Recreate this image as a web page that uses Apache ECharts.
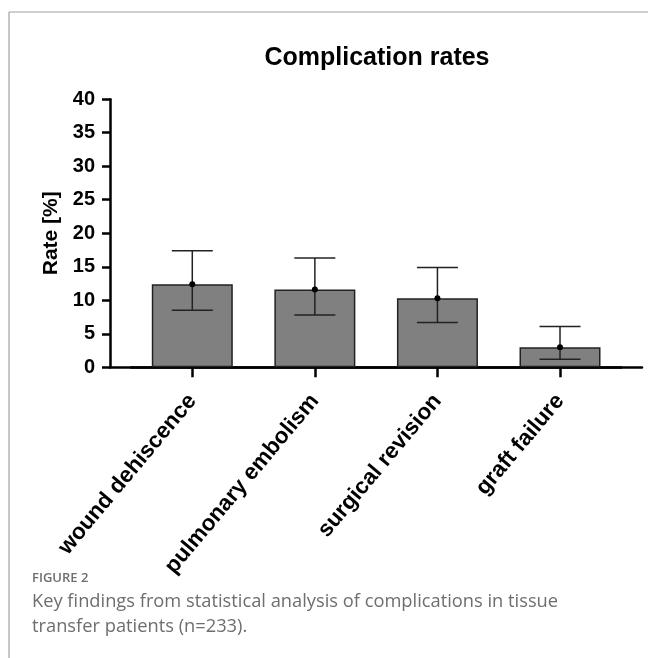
<!DOCTYPE html>
<html>
<head>
<meta charset="utf-8">
<script src="https://cdn.jsdelivr.net/npm/echarts@6/dist/echarts.min.js"></script>
<style>
html,body{margin:0;padding:0;background:#fff;}
#chart{width:648px;height:658px;}
</style>
</head>
<body>
<div id="chart"></div>
<script>
// ---- data ----
var categories = ['wound dehiscence', 'pulmonary embolism', 'surgical revision', 'graft failure'];
var rates = [12.4, 11.6, 10.3, 3.0];
var lowerCI = [8.5, 7.8, 6.7, 1.2];
var upperCI = [17.4, 16.3, 14.9, 6.1];
var yTicks = [0, 5, 10, 15, 20, 25, 30, 35, 40];
var titleText = 'Complication rates';
var yName = 'Rate [%]';
var captionHead = 'FIGURE 2';
var captionLines = ['Key findings from statistical analysis of complications in tissue', 'transfer patients (n=233).'];

var chart = echarts.init(document.getElementById('chart'), null, {renderer: 'canvas'});
var FONT = '"Liberation Sans", Arial, sans-serif';
var gridTop = 99.2, gridBottom = 290.7;

var errData = categories.map(function (c, i) { return [i, lowerCI[i], upperCI[i], rates[i]]; });

var option = {
  backgroundColor: '#ffffff',
  animation: false,
  grid: [
    {left: 110, right: 6, top: gridTop, bottom: gridBottom},
    {left: 131, right: 26.7, top: gridTop, bottom: gridBottom}
  ],
  xAxis: [
    {
      type: 'value', gridIndex: 0, min: 0, max: 1,
      axisLine: {show: true, onZero: false, lineStyle: {color: '#000', width: 2.5}},
      axisTick: {show: false}, axisLabel: {show: false}, splitLine: {show: false}
    },
    {
      type: 'category', gridIndex: 1, data: categories,
      axisLine: {show: true, onZero: false, lineStyle: {color: '#000', width: 2.5}},
      axisTick: {show: true, alignWithLabel: true, length: 10, lineStyle: {color: '#000', width: 2.5}},
      axisLabel: {
        rotate: 50, margin: 30, color: '#000', fontFamily: FONT, fontWeight: 'bold', fontSize: 22.5,
        interval: 0
      },
      splitLine: {show: false}
    }
  ],
  yAxis: [
    {
      type: 'value', gridIndex: 0, min: 0, max: 40, interval: 5,
      name: yName, nameLocation: 'middle', nameGap: 46,
      nameTextStyle: {color: '#000', fontFamily: FONT, fontWeight: 'bold', fontSize: 21},
      axisLine: {show: true, lineStyle: {color: '#000', width: 2.5}},
      axisTick: {show: true, length: 8, lineStyle: {color: '#000', width: 2.5}},
      axisLabel: {
        margin: 15, color: '#000', fontFamily: FONT, fontWeight: 'bold', fontSize: 20,
        formatter: function (v) { return yTicks.indexOf(v) >= 0 ? String(v) : ''; }
      },
      splitLine: {show: false}
    },
    {
      type: 'value', gridIndex: 1, min: 0, max: 40, interval: 5, show: false
    }
  ],
  graphic: [
    {type: 'line', shape: {x1: 9, y1: 12, x2: 648, y2: 12}, style: {stroke: '#a0a0a0', lineWidth: 1.2}, silent: true},
    {type: 'line', shape: {x1: 9, y1: 12, x2: 9, y2: 658}, style: {stroke: '#a0a0a0', lineWidth: 1.2}, silent: true},
    {type: 'text', x: 377, y: 58, style: {text: titleText, x: 0, y: 0, textAlign: 'center', textVerticalAlign: 'middle', font: 'bold 25px ' + FONT, fill: '#000'}},
    {type: 'text', x: 32, y: 578, style: {text: captionHead, textVerticalAlign: 'middle', font: '600 13px "Open Sans", sans-serif', fill: '#6e6e6e'}},
    {type: 'text', x: 32, y: 602, style: {text: captionLines[0], textVerticalAlign: 'middle', font: '18.3px "Open Sans", sans-serif', fill: '#6e6e6e'}},
    {type: 'text', x: 32, y: 627, style: {text: captionLines[1], textVerticalAlign: 'middle', font: '18.3px "Open Sans", sans-serif', fill: '#6e6e6e'}}
  ],
  series: [
    {
      type: 'bar', xAxisIndex: 1, yAxisIndex: 1, data: rates, barWidth: 81,
      itemStyle: {color: '#808080', borderColor: '#222', borderWidth: 1.5},
      silent: true
    },
    {
      type: 'custom', xAxisIndex: 1, yAxisIndex: 1, data: errData, z: 10,
      renderItem: function (params, api) {
        var x = api.value(0);
        var lo = api.coord([x, api.value(1)]);
        var hi = api.coord([x, api.value(2)]);
        var mid = api.coord([x, api.value(3)]);
        var hw = 20.5;
        var st = {stroke: '#222', lineWidth: 1.5};
        return {
          type: 'group',
          children: [
            {type: 'line', shape: {x1: lo[0], y1: lo[1], x2: hi[0], y2: hi[1]}, style: st},
            {type: 'line', shape: {x1: hi[0] - hw, y1: hi[1], x2: hi[0] + hw, y2: hi[1]}, style: st},
            {type: 'line', shape: {x1: lo[0] - hw, y1: lo[1], x2: lo[0] + hw, y2: lo[1]}, style: st},
            {type: 'circle', shape: {cx: mid[0], cy: mid[1], r: 3}, style: {fill: '#000'}}
          ]
        };
      }
    }
  ]
};
chart.setOption(option);
</script>
</body>
</html>
